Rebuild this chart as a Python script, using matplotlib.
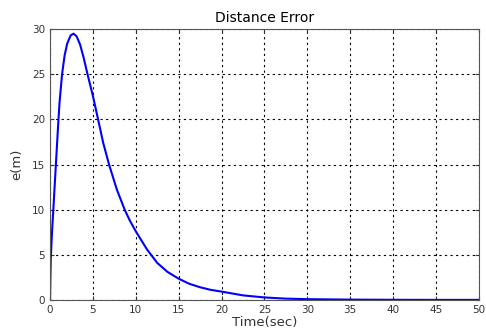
import matplotlib
matplotlib.use("Agg")
import matplotlib.pyplot as plt

time = [0.0, 0.03, 0.08, 0.2, 0.35, 0.5, 0.65, 0.8, 0.95, 1.1, 1.4, 1.7, 2.0, 2.4, 2.74, 3.1, 3.5, 3.9, 4.37, 5.0, 5.6, 6.2, 6.88, 7.8, 8.7, 9.3, 10.0, 11.3, 12.5, 13.7, 15.0, 16.2, 17.5, 18.7, 20.0, 22.5, 25.0, 27.5, 30.0, 35.0, 40.0, 45.0, 50.0]
error = [0.0, 2.0, 4.5, 7.0, 9.5, 12.0, 14.5, 17.0, 19.5, 21.8, 25.0, 27.1, 28.4, 29.3, 29.5, 29.2, 28.3, 26.9, 25.0, 22.6, 20.0, 17.4, 15.0, 12.2, 10.0, 8.8, 7.6, 5.6, 4.1, 3.1, 2.35, 1.8, 1.4, 1.12, 0.92, 0.5, 0.27, 0.14, 0.08, 0.03, 0.01, 0.0, 0.0]

xticks = [0, 5, 10, 15, 20, 25, 30, 35, 40, 45, 50]
yticks = [0, 5, 10, 15, 20, 25, 30]

plt.rcParams['font.family'] = ['DejaVu Sans']
fig = plt.figure(figsize=(4.86, 3.31), dpi=100)
ax = fig.add_axes([0.103, 0.094, 0.882, 0.818])
ax.plot(time, error, color='#0000ff', linewidth=1.5)
ax.set_xlim(0, 50)
ax.set_ylim(0, 30)
ax.set_xticks(xticks)
ax.set_yticks(yticks)
ax.grid(True, color='black', linestyle=(0, (2, 3)), linewidth=0.8)
ax.tick_params(direction='in', top=True, right=True, labelsize=7.5, length=3, colors='#333333')
for s in ax.spines.values():
    s.set_color('#555555')
ax.set_title('Distance Error', fontsize=10, pad=5)
ax.set_xlabel('Time(sec)', fontsize=9.5, labelpad=1, color='#333333')
ax.set_ylabel('e(m)', fontsize=9.5, labelpad=6, color='#333333')
fig.savefig('out.png', dpi=100)
